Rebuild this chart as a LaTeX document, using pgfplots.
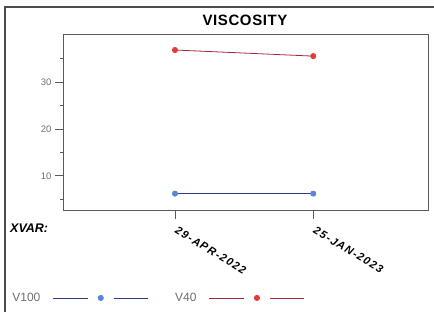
\documentclass[border=0pt]{standalone}
\usepackage{pgfplots}
\pgfplotsset{compat=1.18}
\usepackage{fontspec}
\setmainfont{Liberation Sans}
\definecolor{vblue}{HTML}{2E3E84}
\definecolor{vbluem}{HTML}{5A86D8}
\definecolor{vred}{HTML}{A0283A}
\definecolor{vredm}{HTML}{E23B3B}
\definecolor{tgray}{HTML}{6E6E6E}
\begin{document}
\begin{tikzpicture}[x=1pt,y=1pt]
\useasboundingbox (0,0) rectangle (434,312);
\draw[line width=1.3pt, black!70] (5,-2) -- (5,305) -- (434,305);
\node[font=\bfseries\fontsize{15}{15}\selectfont\addfontfeatures{LetterSpace=4}] at (245,292) {VISCOSITY};
\node[font=\bfseries\itshape\fontsize{12.5}{12.5}\selectfont, anchor=west, inner sep=0pt] at (10,84) {XVAR:};
\begin{axis}[
  at={(63pt,101pt)}, anchor=south west,
  scale only axis, width=365pt, height=176pt,
  xmin=-0.81, xmax=1.83, ymin=2.5, ymax=40,
  xtick={0,1}, xticklabels={29-APR-2022,25-JAN-2023},
  x tick label style={font=\bfseries\itshape\fontsize{11}{11}\selectfont\addfontfeatures{LetterSpace=12}, rotate=-31, anchor=north west, xshift=3pt, yshift=-1pt},
  ytick={10,20,30}, minor ytick={5,15,25,35},
  y tick label style={font=\fontsize{9.5}{9.5}\selectfont, text=tgray},
  /pgf/number format/assume math mode=true,
  tick align=outside, tick pos=left,
  major tick length=8pt, minor tick length=3pt,
  every tick/.style={black!65, line width=0.7pt},
  axis line style={black!65, line width=1pt},
  legend plot pos=right,
  legend columns=2,
  legend style={at={(axis description cs:-0.153,-0.494)}, anchor=west, draw=none, fill=none,
    font=\fontsize{12}{12}\selectfont, text=tgray, column sep=10pt},
  legend cell align=left,
  legend image code/.code={
    \draw[#1,mark=none] (0pt,0pt) -- (35pt,0pt);
    \draw[#1,mark=none] (61pt,0pt) -- (95pt,0pt);
    \draw[#1] plot coordinates {(48pt,0pt)};
  },
]
\addplot[color=vblue, line width=0.8pt, mark=*, mark size=2.6pt, mark options={draw=vbluem, fill=vbluem}] coordinates {(0,6.2) (1,6.2)};
\addlegendentry{V100}
\addplot[color=vred, line width=0.8pt, mark=*, mark size=2.6pt, mark options={draw=vredm, fill=vredm}] coordinates {(0,36.8) (1,35.5)};
\addlegendentry{\hspace*{15pt}V40}
\end{axis}
\end{tikzpicture}
\end{document}
